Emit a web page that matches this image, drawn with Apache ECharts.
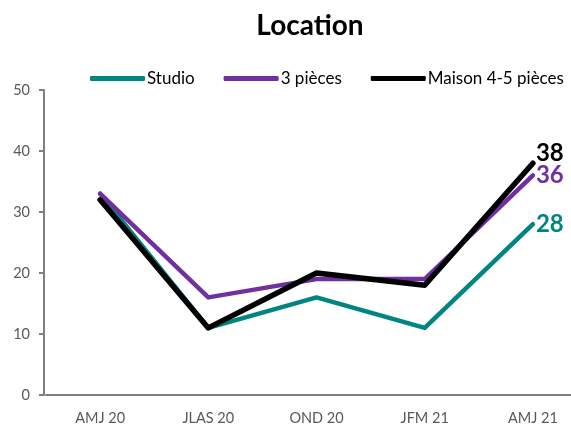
<!DOCTYPE html>
<html>
<head>
<meta charset="utf-8">
<script src="https://cdn.jsdelivr.net/npm/echarts@6/dist/echarts.min.js"></script>
<style>html,body{margin:0;padding:0;background:#fff}#c{width:571px;height:427px}</style>
</head>
<body>
<div id="c"></div>
<script>
var categories = ['AMJ 20', 'JLAS 20', 'OND 20', 'JFM 21', 'AMJ 21'];
var studio = [33, 11, 16, 11, 28];
var troisPieces = [33, 16, 19, 19, 36];
var maison = [32, 11, 20, 18, 38];
var yTicks = [0, 10, 20, 30, 40, 50];

var font = 'Lato, "Liberation Sans", sans-serif';
var chart = echarts.init(document.getElementById('c'));

function mk(name, data, color, width, offset) {
  return {
    name: name,
    type: 'line',
    data: data,
    symbol: 'none',
    lineStyle: { color: color, width: width, cap: 'round', join: 'round' },
    itemStyle: { color: color },
    endLabel: {
      show: true,
      formatter: '{c}',
      distance: 3,
      offset: offset,
      color: color,
      fontFamily: font,
      fontWeight: 'bold',
      fontSize: 24
    },
    clip: false,
    animation: false
  };
}

chart.setOption({
  animation: false,
  title: {
    text: 'Location',
    left: 305, top: 7, textAlign: 'center',
    textStyle: { fontFamily: font, fontWeight: 'bold', fontSize: 28, color: '#000' }
  },
  legend: {
    top: 70, left: 90, width: 481, padding: 0,
    itemWidth: 55, itemHeight: 5, itemGap: 29,
    icon: 'roundRect',
    textStyle: { fontFamily: font, fontSize: 17, color: '#000', padding: [0, 0, 0, -3] },
    data: ['Studio', '3 pièces', 'Maison 4-5 pièces']
  },
  grid: { left: 46, width: 541, top: 90, bottom: 32, containLabel: false, outerBoundsMode: 'none' },
  xAxis: {
    type: 'category',
    data: categories,
    boundaryGap: true,
    axisLine: { lineStyle: { color: '#7f7f7f', width: 2 } },
    axisTick: { show: false },
    axisLabel: { fontFamily: font, fontSize: 14.5, color: '#595959', margin: 16 }
  },
  yAxis: {
    type: 'value',
    min: 0, max: 50, interval: 10,
    offset: 2,
    axisLine: { show: true, lineStyle: { color: '#7f7f7f', width: 2 } },
    axisTick: { show: true, inside: false, length: 5, lineStyle: { color: '#7f7f7f', width: 2 } },
    splitLine: { show: false },
    axisLabel: {
      fontFamily: font, fontSize: 14.5, color: '#595959', margin: 14,
      formatter: function (v) { return yTicks.indexOf(v) >= 0 ? String(v) : ''; }
    }
  },
  series: [
    mk('Studio', studio, '#008580', 4.5, [0, 0]),
    mk('3 pièces', troisPieces, '#7030A0', 4.5, [0, 0]),
    mk('Maison 4-5 pièces', maison, '#000000', 5.5, [0, -10])
  ]
});
</script>
</body>
</html>
